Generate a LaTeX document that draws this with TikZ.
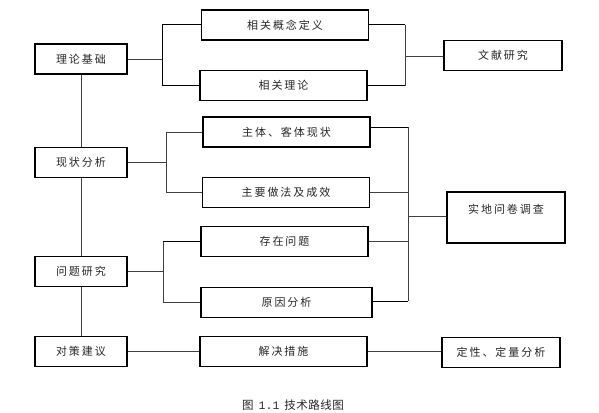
\documentclass[tikz,border=0pt]{standalone}
\usepackage{fontspec}
\newfontfamily\cjk[LetterSpace=18]{Noto Sans CJK SC}
\newfontfamily\cjkcap[LetterSpace=4]{Noto Sans CJK SC}
\newfontfamily\capmono{Liberation Mono}
\begin{document}
\begin{tikzpicture}[x=1pt,y=-1pt,
  box/.style={draw=black,line width=1.2pt,rectangle,inner sep=0pt,font=\cjk\fontsize{11}{13}\selectfont,text=black!85},
  lbox/.style={box,minimum width=92pt,minimum height=30pt},
  mbox/.style={box,minimum width=167pt,minimum height=30pt},
  rbox/.style={box,minimum width=118pt,minimum height=30pt},
  conn/.style={draw=black!75,line width=0.8pt},
  connk/.style={draw=black,line width=1pt}]
\useasboundingbox (0,0) rectangle (599,412);
% left column
\node[lbox] (A1) at (81,59) {理论基础};
\node[lbox] (A2) at (81,162.5) {现状分析};
\node[lbox] (A3) at (81,271.5) {问题研究};
\node[lbox] (A4) at (81,351.5) {对策建议};
% middle column
\node[mbox] (B1) at (285,25) {相关概念定义};
\node[mbox] (B2) at (283.5,85.5) {相关理论};
\node[mbox] (B3) at (286.5,132) {主体、客体现状};
\node[mbox] (B4) at (286,192.5) {主要做法及成效};
\node[mbox] (B5) at (284.5,241.5) {存在问题};
\node[mbox,minimum width=171pt] (B6) at (286.5,302.5) {原因分析};
\node[mbox] (B7) at (283.5,351.5) {解决措施};
% right column
\node[rbox] (C1) at (503,55.5) {文献研究};
\node[rbox,minimum height=51pt,text depth=0pt] (C2) at (506,217.5) {};
\node[font=\cjk\fontsize{11}{13}\selectfont,text=black!85] (C2t) at (C2.center) [yshift=8pt] {实地问卷调查};
\node[rbox] (C3) at (501,352.5) {定性、定量分析};
% vertical spine of left column
\draw[conn] (A1) -- (A2);
\draw[conn] (A2) -- (A3);
\draw[conn] (A3) -- (A4);
% left brackets
\coordinate (L1) at (162,59);
\draw[conn] (A1.east) -- (L1);
\draw[connk] (B1.west) -- (B1.west -| L1) -- (B2.west -| L1) -- (B2.west);
\coordinate (L2) at (166,162.5);
\draw[conn] (A2.east) -- (L2);
\draw[conn] (B3.west) -- (B3.west -| L2) -- (B4.west -| L2) -- (B4.west);
\coordinate (L3) at (163,271.5);
\draw[conn] (A3.east) -- (L3);
\draw[connk] (B5.west) -- (B5.west -| L3);
\draw[conn] (B5.west -| L3) -- (B6.west -| L3) -- (B6.west);
\draw[conn] (A4.east) -- (B7.west);
% right brackets
\coordinate (R1) at (405,56);
\draw[connk] (B1.east) -- (B1.east -| R1);
\draw[conn] (B1.east -| R1) -- (B2.east -| R1);
\draw[connk] (B2.east -| R1) -- (B2.east);
\draw[conn] (R1) -- (C1.west |- R1);
\coordinate (R2) at (408,216);
\coordinate (R2a) at (408,127);
\coordinate (R2d) at (408,301);
\draw[connk] (B3.east |- R2a) -- (R2a);
\draw[conn] (R2a) -- (R2d);
\draw[conn] (B4.east) -- (B4.east -| R2);
\draw[conn] (B5.east) -- (B5.east -| R2);
\draw[connk] (B6.east |- R2d) -- (R2d);
\draw[conn] (R2) -- (C2.west |- R2);
\draw[conn] (B7.east) -- (C3.west |- B7.east);
% caption
\node[font=\cjkcap\fontsize{11.5}{13}\selectfont,text=black!85] (cap) at (293,405) {图\hspace{5pt}{\capmono 1.1}\hspace{5pt}技术路线图};
\end{tikzpicture}
\end{document}
